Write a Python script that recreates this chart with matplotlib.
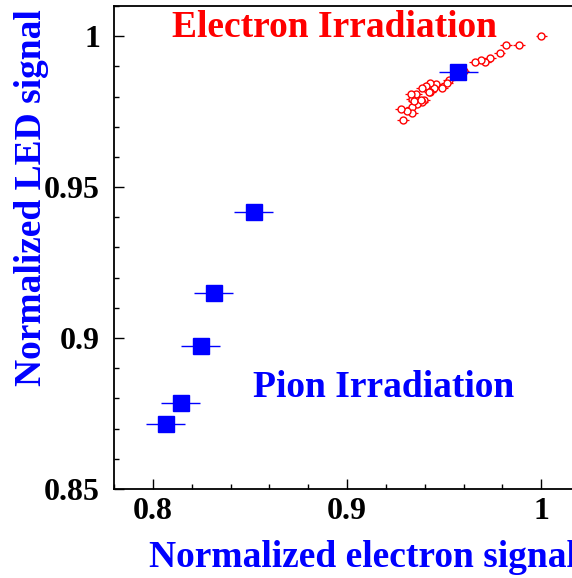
import matplotlib
matplotlib.use("Agg")
import matplotlib.pyplot as plt
from matplotlib.ticker import MultipleLocator

plt.rcParams['font.family'] = ['Liberation Serif', 'DejaVu Serif']
plt.rcParams['font.weight'] = 'bold'

# pion irradiation points (blue squares)
pion_x = [0.8067, 0.8144, 0.8246, 0.8313, 0.8520, 0.9573]
pion_y = [0.8715, 0.8784, 0.8973, 0.9150, 0.9416, 0.9882]
pion_xerr = [0.010, 0.010, 0.010, 0.010, 0.010, 0.010]

# electron irradiation points (red open circles)
elec_x = [1.000, 0.9886, 0.9819, 0.9785, 0.9735, 0.9711, 0.9687, 0.9660,
          0.9600, 0.9560, 0.9523, 0.9515, 0.9489, 0.9460, 0.9448, 0.9429,
          0.9429, 0.9407, 0.9386, 0.9395, 0.9386, 0.9361, 0.9356, 0.9332,
          0.9327, 0.9335, 0.9335, 0.9309, 0.9278, 0.9289, 0.9345, 0.9381,
          0.9424]
elec_y = [1.000, 0.9971, 0.9971, 0.9944, 0.9928, 0.9915, 0.9920, 0.9914,
          0.9885, 0.9880, 0.9854, 0.9846, 0.9830, 0.9841, 0.9830, 0.9845,
          0.9816, 0.9834, 0.9828, 0.9790, 0.9782, 0.9774, 0.9807, 0.9791,
          0.9807, 0.9766, 0.9744, 0.9753, 0.9758, 0.9724, 0.9786, 0.9788,
          0.9814]
elec_xerr = 0.003

fig = plt.figure(figsize=(5.72, 5.78), dpi=100)
ax = fig.add_axes([0.1993, 0.154, 0.815, 0.8356])

ax.errorbar(elec_x, elec_y, xerr=elec_xerr, fmt='o', color='red', mfc='white',
            mec='red', ms=5, mew=1.0, elinewidth=0.9, capsize=0, zorder=2)
ax.errorbar(pion_x, pion_y, xerr=pion_xerr, fmt='s', color='blue', mfc='blue',
            mec='blue', ms=11.5, elinewidth=1.0, capsize=0, zorder=3)

ax.set_xlim(0.78, 1.02)
ax.set_ylim(0.85, 1.01)
ax.xaxis.set_major_locator(MultipleLocator(0.1))
ax.xaxis.set_minor_locator(MultipleLocator(0.02))
ax.yaxis.set_major_locator(MultipleLocator(0.05))
ax.yaxis.set_minor_locator(MultipleLocator(0.01))
ax.xaxis.set_major_formatter(plt.FuncFormatter(lambda v, p: f"{v:g}"))
ax.yaxis.set_major_formatter(plt.FuncFormatter(lambda v, p: f"{v:g}"))

ax.tick_params(which='both', direction='in', top=False, right=False,
               labelsize=23, width=1.0)
ax.tick_params(which='major', length=7.5)
ax.tick_params(which='minor', length=3.8)
ax.tick_params(axis='x', pad=6)
ax.tick_params(axis='y', pad=10)
for lab in ax.get_xticklabels() + ax.get_yticklabels():
    lab.set_fontweight('bold')
for s in ax.spines.values():
    s.set_linewidth(1.3)

ax.set_xlabel('Normalized electron signal', color='blue', fontsize=27,
              fontweight='bold', ha='left', va='baseline')
ax.xaxis.set_label_coords(0.075, -0.1615)
ax.set_ylabel('Normalized LED signal', color='blue', fontsize=27,
              fontweight='bold', ha='center', va='center')
ax.yaxis.set_label_coords(-0.177, 0.603)

ax.text(0.8100, 1.003, 'Electron Irradiation', color='red', fontsize=27,
        fontweight='bold', ha='left', va='center')
ax.text(0.8518, 0.8835, 'Pion Irradiation', color='blue', fontsize=27,
        fontweight='bold', ha='left', va='center')

fig.savefig('out.png', dpi=100)
